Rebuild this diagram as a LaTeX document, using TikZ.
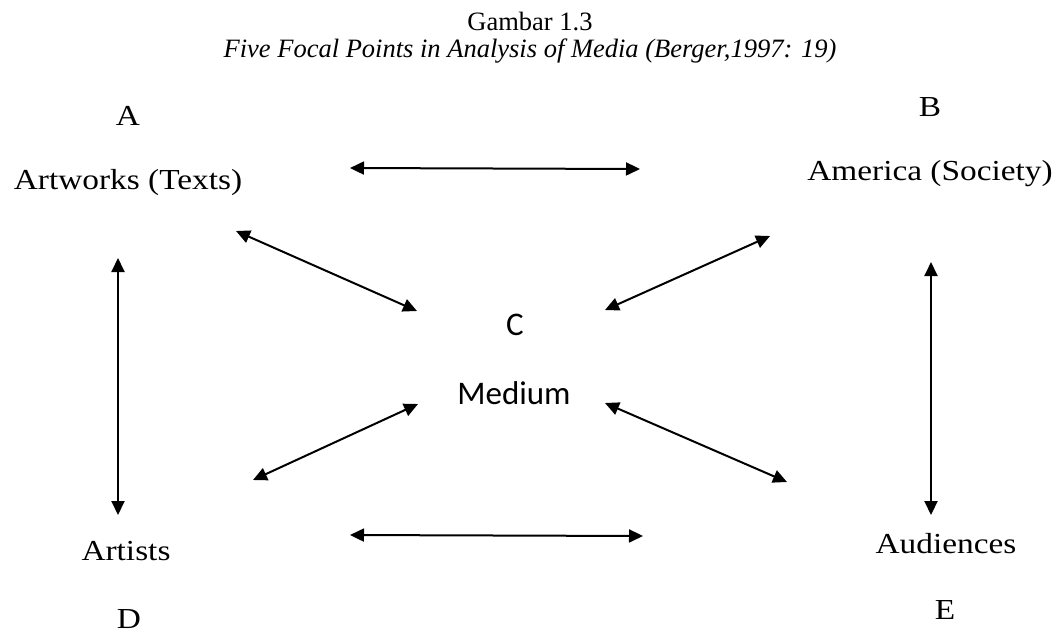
\documentclass[tikz,border=0pt]{standalone}
\usepackage{fontspec}
\setmainfont{Liberation Serif}
\newfontfamily\calfont{Carlito}
\usetikzlibrary{arrows.meta}
\newcommand{\wide}[1]{\scalebox{1.15}[1]{#1}}
\begin{document}
\begin{tikzpicture}[x=1pt,y=-1pt,
  lbl/.style={inner sep=0pt,font=\fontsize{29}{34}\selectfont},
  clbl/.style={inner sep=0pt,font=\calfont\fontsize{33}{38}\selectfont},
  ttl/.style={inner sep=0pt,font=\fontsize{26.5}{30}\selectfont},
  link/.style={line width=2pt,{Triangle[length=14pt,width=13pt]}-{Triangle[length=14pt,width=13pt]}}]
\useasboundingbox (0,0) rectangle (1060,633);
\node[ttl] (t1) at (530,21) {Gambar 1.3};
\node[ttl,font=\itshape\fontsize{26.5}{30}\selectfont] (t2) at (530,51) {Five Focal Points in Analysis of Media (Berger,1997: 19)};
\node[lbl] (A) at (128,116) {\wide{A}};
\node[lbl] (art) at (128,183) {\wide{Artworks (Texts)}};
\node[lbl] (B) at (930,107) {\wide{B}};
\node[lbl] (ame) at (930,174) {\wide{America (Society)}};
\node[clbl] (C) at (515,325) {C};
\node[clbl] (med) at (514,393) {Medium};
\node[lbl] (ats) at (126,551) {\wide{Artists}};
\node[lbl] (D) at (129,619) {\wide{D}};
\node[lbl] (aud) at (946,544) {\wide{Audiences}};
\node[lbl] (E) at (945,610) {\wide{E}};
% arrow end points
\coordinate (h1a) at (350,168); \coordinate (h1b) at (640,169);
\coordinate (h2a) at (350,535); \coordinate (h2b) at (643,536);
\coordinate (v1a) at (118,258); \coordinate (v1b) at (118,515);
\coordinate (v2a) at (931,262); \coordinate (v2b) at (931,515);
\coordinate (d1a) at (236,231); \coordinate (d1b) at (417,311);
\coordinate (d2a) at (770,236); \coordinate (d2b) at (605,310);
\coordinate (d3a) at (418,404); \coordinate (d3b) at (253,480);
\coordinate (d4a) at (605,403); \coordinate (d4b) at (787,482);
\draw[link] (h1a) -- (h1b);
\draw[link] (h2a) -- (h2b);
\draw[link] (v1a) -- (v1b);
\draw[link] (v2a) -- (v2b);
\draw[link] (d1a) -- (d1b);
\draw[link] (d2a) -- (d2b);
\draw[link] (d3a) -- (d3b);
\draw[link] (d4a) -- (d4b);
\end{tikzpicture}
\end{document}
